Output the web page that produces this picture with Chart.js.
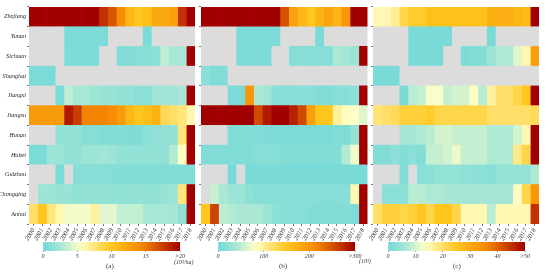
<!DOCTYPE html>
<html>
<head>
<meta charset="utf-8">
<script src="https://cdn.jsdelivr.net/npm/chart.js@4.4.1/dist/chart.umd.min.js"></script>
<style>
  body { margin: 0; background: #fff; }
  #wrap { position: relative; width: 550px; height: 272px; overflow: hidden; }
  canvas { position: absolute; }
  .txt { position: absolute; font-family: 'Liberation Serif', serif; color: #333; white-space: nowrap; }
</style>
</head>
<body>
<div id="wrap">
  <canvas id="heatA" style="left:0px;top:0px" width="200" height="246"></canvas>
  <canvas id="heatB" style="left:197px;top:0px" width="174" height="246"></canvas>
  <canvas id="heatC" style="left:369px;top:0px" width="181" height="246"></canvas>
  <canvas id="barA" style="left:30px;top:238px" width="170" height="34"></canvas>
  <canvas id="barB" style="left:205px;top:238px" width="170" height="34"></canvas>
  <canvas id="barC" style="left:375px;top:238px" width="170" height="34"></canvas>
  <div class="txt" style="left:174px;top:259px;font-size:6px;font-style:italic">(10³/ha)</div>
  <div class="txt" style="left:359px;top:258px;font-size:6px;font-style:italic">(10³)</div>
  <div class="txt" style="left:106px;top:262px;font-size:7px">(a)</div>
  <div class="txt" style="left:279px;top:262px;font-size:7px">(b)</div>
  <div class="txt" style="left:453px;top:262px;font-size:7px">(c)</div>
</div>
<script>
const years = ['2000','2001','2002','2003','2004','2005','2006','2007','2008','2009',
  '2010','2011','2012','2013','2014','2015','2016','2017','2018']
const provinces = ['Zhejiang','Yunan','Sichuan','Shanghai','Jiangxi','Jiangsu',
  'Hunan','Hubei','Guizhou','Chongqing','Anhui']

// panel (a), 0..20 (10^3/ha), null = no data
const valuesA = [
  [20,20,20,20,20,20,20,20,18,16.5,14,11,10,10.5,12,12,12.5,18,20],
  [null,null,null,null,0.5,0.5,0.6,0.5,0.5,null,null,null,null,0.5,null,null,null,null,null],
  [null,null,null,null,0.6,0.6,0.6,0.6,null,null,0.8,0.8,1,1,1.2,3.5,2.5,2.5,20],
  [0.5,0.5,0.5,null,null,null,null,null,null,null,null,null,null,null,null,null,null,null,null],
  [null,null,null,0.5,3.5,2.5,2.5,2,1.8,1.8,1.5,1.5,1.2,1.2,2.2,2.2,2.2,2.5,20],
  [13,13,13,13,19,17.5,14.5,14.5,14.5,14,13,11,10,10.5,11.5,8.5,8,7.5,6],
  [null,null,null,1.5,1.5,1.5,1,1,0.8,0.8,0.8,0.7,0.7,1.2,1.5,1.5,1.5,7.5,20],
  [0.5,0.5,2,2,1.5,1.5,2,2,2.2,2,1.5,1.5,1.5,1.5,1.5,1.5,3,5.5,20],
  [null,null,null,0.5,null,1,1,1,1,0.9,0.9,0.8,0.8,0.8,0.8,0.7,0.7,0.7,0.7],
  [null,2,2,1.8,1.8,1.5,1.5,1.5,1.5,1.5,1.5,1.5,1.5,1.5,1.5,1.8,2,7.5,20],
  [8,10,7.5,6,5,5,5,6.5,4.5,4.5,3.5,3.5,3.5,2.5,2.5,2.5,2.5,1.5,20]
]

// panel (b), 0..300 (10^3)
const valuesB = [
  [300,300,300,300,300,300,300,300,300,250,190,165,150,170,185,170,200,300,300],
  [null,null,null,null,8,8,8,8,8,null,null,null,null,8,null,null,null,null,null],
  [null,null,null,null,8,8,8,8,null,null,15,15,15,15,15,40,35,30,300],
  [20,10,10,null,null,null,null,null,null,null,null,null,null,null,null,null,null,null,null],
  [null,null,null,8,8,200,40,35,15,15,15,15,15,12,12,15,15,20,300],
  [300,300,300,300,300,300,255,285,300,300,280,255,190,150,150,100,85,80,65],
  [null,null,null,12,12,12,10,10,8,8,8,8,8,8,8,10,10,25,300],
  [10,10,10,10,10,10,15,15,15,12,12,12,12,12,12,12,45,75,300],
  [null,null,null,5,null,6,6,6,6,6,6,6,6,6,6,6,6,6,6],
  [null,55,40,30,30,20,15,15,15,15,15,15,15,15,15,15,15,90,300],
  [150,260,50,45,40,40,40,30,20,15,15,15,12,12,12,12,12,10,300]
]

// panel (c), 0..50
const valuesC = [
  [15,15,17,22,24,24,26,26,26,26,26,26,26,29,29,29,28,27,50],
  [null,null,null,null,1,1,1,1,1,null,null,null,null,1,null,null,null,null,null],
  [null,null,null,null,1,1,1,1,null,null,1.5,2,2,5,7,7,11,15,32],
  [1,1,1,null,null,null,null,null,null,null,null,null,null,null,null,null,null,null,null],
  [null,null,null,1,8,9,13,13,9,10,10,14,8,16,20,20,22,25,50],
  [19,20,21,23,23,23,24,22,22,22,22,22,22,20,20,20,20,20,21],
  [null,null,null,6,6,7,8,10,10,9,9,9,9,7,7,7,10,15,50],
  [2,2,3,2,3,2,9,9,10,12,9,9,9,7,7,7,18,22,50],
  [null,null,null,2,null,3,3,4,4,4,3.5,3.5,3,2.5,4,4,4,4,7],
  [null,3,3,3,8,8,7,7,6,6,6,6,6,6,6,6,14,22,33],
  [20,23,23,22,23,25,22,25,25,22,15,15,15,8,15,15,15,15,45]
]

const ticksA = [0, 5, 10, 15, 20]
const ticksB = [0, 100, 200, 300]
const ticksC = [0, 10, 20, 30, 40, 50]

// colour ramp: cyan -> pale yellow -> gold -> orange -> dark red
const stops = [
  [0.00, [112, 216, 216]],
  [0.15, [178, 234, 212]],
  [0.27, [255, 255, 200]],
  [0.50, [255, 198, 30]],
  [0.72, [245, 135, 0]],
  [0.88, [200, 60, 0]],
  [1.00, [160, 0, 0]]
]
const noData = '#dcdcdc'

function colorAt(t) {
  t = Math.max(0, Math.min(1, t))
  for (let i = 1; i < stops.length; i++) {
    if (t <= stops[i][0]) {
      const a = stops[i - 1], b = stops[i]
      const f = (t - a[0]) / (b[0] - a[0])
      const c = a[1].map((v, k) => Math.round(v + (b[1][k] - v) * f))
      return 'rgb(' + c.join(',') + ')'
    }
  }
  return 'rgb(160,0,0)'
}

const serif = 'Liberation Serif'

function makeHeat(id, values, max, showNames, padRight, yWidth) {
  const datasets = years.map((yr, j) => ({
    label: yr,
    data: provinces.map(() => [j, j + 1]),
    backgroundColor: values.map(row => row[j] === null ? noData : colorAt(row[j] / max)),
    borderWidth: 0,
    grouped: false,
    categoryPercentage: 1,
    barPercentage: 1,
  }))
  return new Chart(document.getElementById(id), {
    type: 'bar',
    data: { labels: provinces, datasets: datasets },
    options: {
      indexAxis: 'y',
      responsive: false,
      animation: false,
      layout: { padding: { top: 7, right: padRight, left: 0, bottom: 0 } },
      plugins: { legend: { display: false }, tooltip: { enabled: false } },
      scales: {
        x: {
          type: 'linear',
          min: 0,
          max: years.length,
          afterBuildTicks: (scale) => { scale.ticks = years.map((y, i) => ({ value: i + 0.5 })) },
          afterFit: (scale) => { scale.height = 22 },
          grid: { drawOnChartArea: false, tickLength: 2, color: '#777' },
          border: { display: false },
          ticks: {
            autoSkip: false,
            maxRotation: 60,
            minRotation: 60,
            padding: 1,
            color: '#333',
            font: { family: serif, size: 6.5, style: 'italic' },
            callback: (v, i) => years[i],
          },
        },
        y: {
          afterFit: (scale) => { scale.width = yWidth },
          grid: { drawOnChartArea: false, tickLength: 2, color: '#777' },
          border: { display: false },
          ticks: {
            padding: 1,
            color: '#222',
            font: { family: serif, size: 6.2, style: 'italic' },
            callback: (v, i) => showNames ? provinces[i] : '',
          },
        },
      },
    },
  })
}

function makeBar(id, max, tickVals) {
  return new Chart(document.getElementById(id), {
    type: 'bar',
    data: {
      labels: [''],
      datasets: [{
        data: [[0, max]],
        borderWidth: 0,
        categoryPercentage: 1,
        barPercentage: 1,
        backgroundColor: (ctx) => {
          const area = ctx.chart.chartArea
          if (!area) return '#ccc'
          const g = ctx.chart.ctx.createLinearGradient(area.left, 0, area.right, 0)
          for (let i = 0; i <= 20; i++) g.addColorStop(i / 20, colorAt(i / 20))
          return g
        },
      }],
    },
    options: {
      indexAxis: 'y',
      responsive: false,
      animation: false,
      layout: { padding: { top: 4, left: 13, right: 20, bottom: 0 } },
      plugins: { legend: { display: false }, tooltip: { enabled: false } },
      scales: {
        y: { display: false },
        x: {
          type: 'linear',
          min: 0,
          max: max,
          afterBuildTicks: (scale) => { scale.ticks = tickVals.map(v => ({ value: v })) },
          afterFit: (scale) => { scale.height = 21 },
          grid: { drawOnChartArea: false, tickLength: 1, color: '#999' },
          border: { display: false },
          ticks: {
            padding: 1,
            color: '#333',
            maxRotation: 0,
            font: { family: serif, size: 6, style: 'italic' },
            callback: (v) => v === max ? '>' + v : v,
          },
        },
      },
    },
  })
}

makeHeat('heatA', valuesA, 20, true, 5, 29)
makeHeat('heatB', valuesB, 300, false, 3, 4)
makeHeat('heatC', valuesC, 50, false, 11, 4)
makeBar('barA', 20, ticksA)
makeBar('barB', 300, ticksB)
makeBar('barC', 50, ticksC)
</script>
</body>
</html>
